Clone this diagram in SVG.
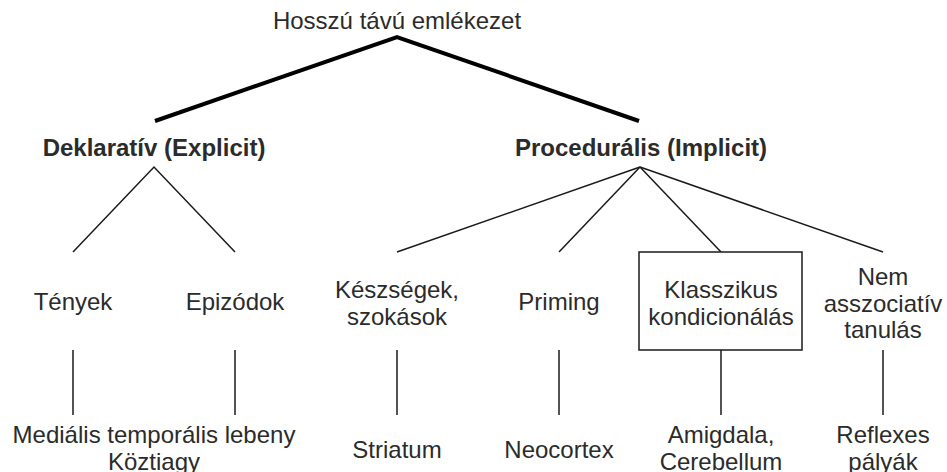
<svg xmlns="http://www.w3.org/2000/svg" width="947" height="472" viewBox="0 0 947 472">
  <style>
    text { font-family: "Liberation Sans", Arial, sans-serif; font-size: 24px; fill: #2b2b2b; text-anchor: middle; }
    .b { font-weight: bold; }
    .thick { stroke: #000; stroke-width: 4; fill: none; }
    .thin { stroke: #1a1a1a; stroke-width: 1.5; fill: none; }
    .box { stroke: #1a1a1a; stroke-width: 1.5; fill: #fff; }
  </style>
  <rect width="947" height="472" fill="#fff"/>
  <g id="connectors">
    <polyline class="thick" points="155,121 397,37 639,121"/>
    <polyline class="thin" points="73,252 154,167 235,252"/>
    <line class="thin" x1="640" y1="167" x2="397" y2="252"/>
    <line class="thin" x1="640" y1="167" x2="559" y2="252"/>
    <line class="thin" x1="640" y1="167" x2="721" y2="252"/>
    <line class="thin" x1="640" y1="167" x2="883" y2="252"/>
    <line class="thin" x1="73" y1="350" x2="73" y2="415"/>
    <line class="thin" x1="235" y1="350" x2="235" y2="415"/>
    <line class="thin" x1="397" y1="350" x2="397" y2="415"/>
    <line class="thin" x1="559" y1="350" x2="559" y2="415"/>
    <line class="thin" x1="721" y1="350" x2="721" y2="415"/>
    <line class="thin" x1="883" y1="350" x2="883" y2="415"/>
  </g>
  <g id="root"><text x="397" y="29">Hosszú távú emlékezet</text></g>
  <g id="deklarativ"><text class="b" x="154" y="156">Deklaratív (Explicit)</text></g>
  <g id="procedural"><text class="b" x="641" y="156">Procedurális (Implicit)</text></g>
  <g id="tenyek"><text x="73" y="310">Tények</text></g>
  <g id="epizodok"><text x="235" y="310">Epizódok</text></g>
  <g id="keszsegek"><text x="397" y="298">Készségek,</text><text x="397" y="325">szokások</text></g>
  <g id="priming"><text x="559" y="310">Priming</text></g>
  <g id="klasszikus"><rect class="box" x="639" y="252" width="163" height="98"/><text x="721" y="298">Klasszikus</text><text x="721" y="325">kondicionálás</text></g>
  <g id="nem-asszociativ"><text x="883" y="285">Nem</text><text x="883" y="312">asszociatív</text><text x="883" y="338">tanulás</text></g>
  <g id="medialis"><text x="154" y="443">Mediális temporális lebeny</text><text x="154" y="470">Köztiagy</text></g>
  <g id="striatum"><text x="397" y="458">Striatum</text></g>
  <g id="neocortex"><text x="559" y="458">Neocortex</text></g>
  <g id="amigdala"><text x="721" y="443">Amigdala,</text><text x="721" y="470">Cerebellum</text></g>
  <g id="reflexes"><text x="883" y="443">Reflexes</text><text x="883" y="470">pályák</text></g>
</svg>
